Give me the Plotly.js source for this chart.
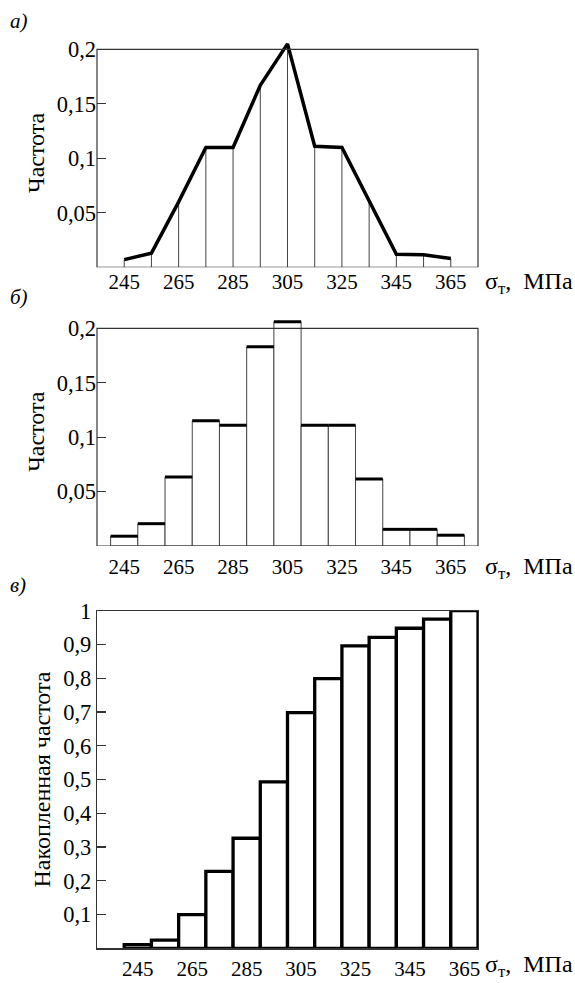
<!DOCTYPE html>
<html>
<head>
<meta charset="utf-8">
<script src="https://cdn.plot.ly/plotly-3.0.1.min.js"></script>
<style>
html,body{margin:0;padding:0;background:#fff}
</style>
</head>
<body>
<div id="chart" style="width:575px;height:983px"></div>
<script>
// ---- data ----
const sigma = [245, 255, 265, 275, 285, 295, 305, 315, 325, 335, 345, 355, 365];
const polygonFreq = [0.007, 0.013, 0.060, 0.110, 0.110, 0.167, 0.205, 0.111, 0.110, 0.061, 0.012, 0.0115, 0.008];
const histFreq = [0.009, 0.0205, 0.0635, 0.115, 0.111, 0.183, 0.206, 0.111, 0.111, 0.0615, 0.0153, 0.0153, 0.0099];
const cumFreq = [0.011, 0.024, 0.100, 0.228, 0.326, 0.493, 0.698, 0.799, 0.896, 0.921, 0.948, 0.975, 1.0];
const binWidth = 10;
const xTickVals = [245, 265, 285, 305, 325, 345, 365];
const freqTickVals = [0.05, 0.1, 0.15, 0.2];
const cumTickVals = [0.1, 0.2, 0.3, 0.4, 0.5, 0.6, 0.7, 0.8, 0.9, 1];
const freqBoxTop = 0.2;
const panelLabels = ['а)', 'б)', 'в)'];
const freqTitle = 'Частота';
const cumTitle = 'Накопленная частота';
const unitText = 'σ<sub>т</sub>,\u00A0 МПа';

// ---- derived geometry for segments ----
const vertX = [], vertY = [];
sigma.forEach((s, i) => { vertX.push(s, s, null); vertY.push(0, polygonFreq[i], null); });
const topX = [], topY = [];
sigma.forEach((s, i) => { topX.push(s - binWidth / 2, s + binWidth / 2, null); topY.push(histFreq[i], histFreq[i], null); });

const FONT = 'Liberation Serif';
const xTickFont = {family: FONT, size: 21, color: '#000'};
const yTickFont = {family: FONT, size: 22.5, color: '#000'};
const titleFont = {family: FONT, size: 24, color: '#000'};
const AX = '#333';

const traces = [
  {type: 'scatter', mode: 'lines', x: vertX, y: vertY, xaxis: 'x', yaxis: 'y',
   line: {color: '#444', width: 1}, hoverinfo: 'skip'},
  {type: 'scatter', mode: 'lines', x: sigma, y: polygonFreq, xaxis: 'x', yaxis: 'y',
   line: {color: '#000', width: 3.5}},
  {type: 'bar', x: sigma, y: histFreq, width: binWidth, xaxis: 'x2', yaxis: 'y2',
   marker: {color: '#fff', line: {color: '#444', width: 1}}},
  {type: 'scatter', mode: 'lines', x: topX, y: topY, xaxis: 'x2', yaxis: 'y2',
   line: {color: '#000', width: 3}, hoverinfo: 'skip'},
  {type: 'bar', x: sigma, y: cumFreq, width: binWidth, xaxis: 'x3', yaxis: 'y3',
   marker: {color: '#fff', line: {color: '#000', width: 3.3}}}
];

function xAx(range, anchor, standoff, boxed) {
  return {domain: [0, 1], range: range, anchor: anchor, tickvals: xTickVals, ticks: '',
    showline: boxed, mirror: boxed, linecolor: AX, linewidth: 1.2, showgrid: false, zeroline: false,
    tickfont: Object.assign({}, xTickFont), ticklabelstandoff: standoff, fixedrange: true};
}
function yAx(domain, range, tickvals, anchor, title, boxed) {
  return {domain: domain, range: range, anchor: anchor, tickvals: tickvals, ticks: 'inside',
    ticklen: 9, tickwidth: 1.2, tickcolor: AX, showline: boxed, mirror: boxed, linecolor: AX,
    linewidth: 1.2, showgrid: false, zeroline: false, tickfont: Object.assign({}, yTickFont),
    title: {text: title, font: Object.assign({}, titleFont), standoff: 5}, fixedrange: true};
}

const H = 983;
const dom = (top, bottom) => [1 - bottom / H, 1 - top / H];

const annotations = [];
[20.7, 297, 585].forEach((yy, i) => {
  annotations.push({xref: 'paper', yref: 'paper', x: -0.2336, y: 1 - yy / H, xanchor: 'left', yanchor: 'middle',
    text: '<i>' + panelLabels[i] + '</i>', showarrow: false, font: {family: FONT, size: 21, color: '#000'}});
});
[283.3, 567.5, 966].forEach(yy => {
  annotations.push({xref: 'paper', yref: 'paper', x: (483 - 97) / 381, y: 1 - yy / H, xanchor: 'left', yanchor: 'middle',
    text: unitText, showarrow: false, font: {family: FONT, size: 24, color: '#000'}});
});

const boxShape = (xr, yr) => ({type: 'rect', xref: xr + ' domain', yref: yr, x0: 0, x1: 1, y0: 0, y1: freqBoxTop,
  line: {color: AX, width: 1.2}, fillcolor: 'rgba(0,0,0,0)', layer: 'above'});

const layout = {
  width: 575, height: 983,
  margin: {l: 97, r: 97, t: 0, b: 0},
  paper_bgcolor: '#fff', plot_bgcolor: '#fff',
  font: {family: FONT, color: '#000'},
  showlegend: false, separators: ', ', bargap: 0,
  xaxis: xAx([235, 375], 'y', 0, false),
  yaxis: yAx(dom(38.4, 267.3), [0, 0.21], freqTickVals, 'x', freqTitle, false),
  xaxis2: xAx([235, 375], 'y2', 6, false),
  yaxis2: yAx(dom(317.4, 546), [0, 0.21], freqTickVals, 'x2', freqTitle, false),
  xaxis3: xAx([230, 370], 'y3', 1, true),
  yaxis3: yAx(dom(610.7, 948.3), [0, 1], cumTickVals, 'x3', cumTitle, true),
  shapes: [boxShape('x', 'y'), boxShape('x2', 'y2')],
  annotations: annotations
};

Plotly.newPlot('chart', traces, layout, {displayModeBar: false, staticPlot: true});
</script>
</body>
</html>
